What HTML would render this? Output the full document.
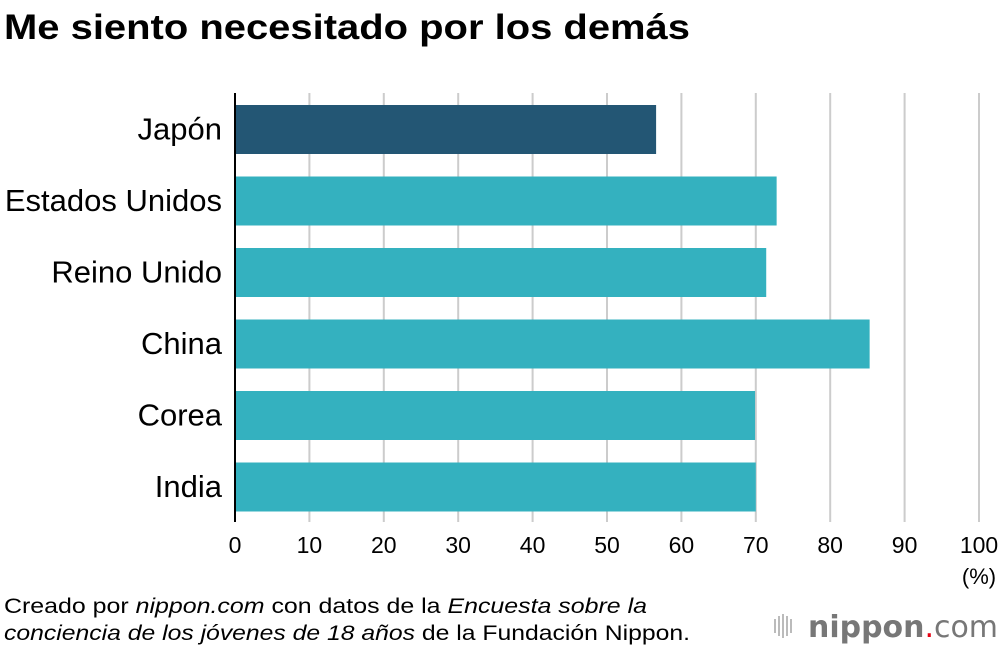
<!DOCTYPE html>
<html><head><meta charset="utf-8"><style>
body{margin:0;background:#fff;width:1000px;height:650px;overflow:hidden;font-family:"Liberation Sans",sans-serif}
</style></head><body>
<svg width="1000" height="650" xmlns="http://www.w3.org/2000/svg">
<text x="4" y="39" font-size="35" font-weight="bold" fill="#000" textLength="686" lengthAdjust="spacingAndGlyphs">Me siento necesitado por los demás</text>
<g id="grid"></g>
<g id="bars"></g>
<g id="labels"></g>
<g id="ticks"></g>
<line x1="235" y1="93" x2="235" y2="522" stroke="#000" stroke-width="2"/>
<text x="979" y="584" font-size="22" text-anchor="middle">(%)</text>
<text x="4" y="613" font-size="21" textLength="643" lengthAdjust="spacingAndGlyphs">Creado por <tspan font-style="italic">nippon.com</tspan> con datos de la <tspan font-style="italic">Encuesta sobre la</tspan></text>
<text x="4" y="640" font-size="21" textLength="686" lengthAdjust="spacingAndGlyphs"><tspan font-style="italic">conciencia de los jóvenes de 18 años</tspan> de la Fundación Nippon.</text>
<g>
<g fill="#bbb"><rect x="774" y="619" width="2" height="14"/><rect x="778" y="616" width="2" height="20"/><rect x="782" y="614" width="2" height="24"/><rect x="786" y="616" width="2" height="20"/><rect x="790" y="619" width="2" height="14"/></g>
<text x="808" y="637" font-size="30" font-family="'DejaVu Sans',sans-serif" fill="#777" textLength="190" lengthAdjust="spacingAndGlyphs"><tspan font-weight="bold">nippon</tspan><tspan fill="#e60012">.</tspan><tspan>com</tspan></text>
</g>
</svg>
<script>
const categories=["Japón","Estados Unidos","Reino Unido","China","Corea","India"];
const values=[56.6,72.8,71.4,85.3,69.9,70.0];
const tickValues=[0,10,20,30,40,50,60,70,80,90,100];
const NS="http://www.w3.org/2000/svg";
const x0=235,x1=979,top0=105,pitch=71.5,bh=49;
const xs=v=>x0+(x1-x0)*v/100;
const ys=i=>top0+i*pitch;
function mk(t,a){const e=document.createElementNS(NS,t);for(const k in a)e.setAttribute(k,a[k]);return e;}
const grid=document.getElementById('grid'),ticks=document.getElementById('ticks'),bars=document.getElementById('bars'),labels=document.getElementById('labels');
tickValues.forEach(v=>{
 if(v>0){const l=mk('line',{x1:xs(v),x2:xs(v),y1:93,y2:522,stroke:'#ccc','stroke-width':2});
 
 
 grid.appendChild(l);}
 const t=mk('text',{x:xs(v),y:553,'font-size':23,'text-anchor':'middle'});t.textContent=v;
 
 
 ticks.appendChild(t);
});
categories.forEach((c,i)=>{
 const r=mk('rect',{x:x0,y:ys(i),width:xs(values[i])-x0,height:bh,fill:i===0?'#235674':'#34b1bf'});
 
 
 bars.appendChild(r);
 const t=mk('text',{x:222,y:ys(i)+bh/2+10,'font-size':31,'text-anchor':'end'});t.textContent=c;
 
 
 labels.appendChild(t);
});
</script>
</body></html>
